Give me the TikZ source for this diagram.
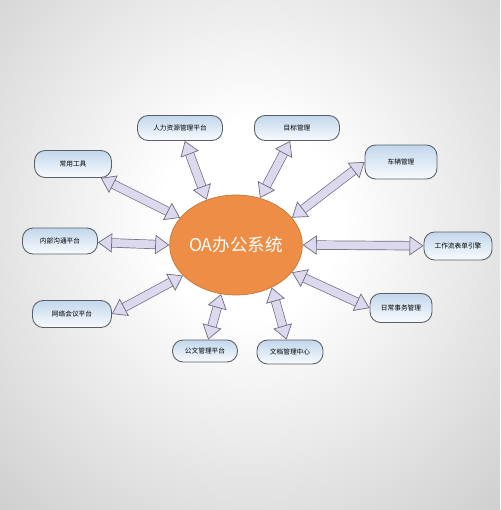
\documentclass[tikz,border=0pt]{standalone}
\usepackage{fontspec}
\newfontfamily\cjk{Noto Sans CJK SC}
\usepackage{tikz}
\usetikzlibrary{arrows.meta,shapes.geometric}
\definecolor{arrowfill}{HTML}{DCD8EE}
\definecolor{arrowline}{HTML}{6E6E80}
\definecolor{boxtop}{HTML}{C2D7EC}
\definecolor{boxline}{HTML}{5A5F66}
\definecolor{oafill}{HTML}{EE8D45}
\definecolor{oaline}{HTML}{C8783C}
\pgfdeclareradialshading{bgshade}{\pgfpoint{0bp}{0bp}}{color(0bp)=(white); color(8bp)=(white); color(44bp)=(black!27); color(72bp)=(black!31)}

\begin{document}
\begin{tikzpicture}[x=0.02cm,y=-0.02cm]
\tikzstyle{module}=[draw=boxline, line width=0.5pt, rounded corners=6pt, top color=boxtop, bottom color=white!90!boxtop, inner sep=0pt, font=\cjk\fontsize{3.8}{4}\selectfont]
\tikzstyle{fat}=[draw=arrowline, line width=0.4pt, double=arrowfill, double distance=4.5pt, {Triangle[length=8pt,width=11pt,fill=arrowfill]}-{Triangle[length=8pt,width=11pt,fill=arrowfill]}]
\useasboundingbox (0,0) rectangle (500,510);
\begin{scope}
\clip (0,0) rectangle (500,510);
\shade[shading=bgshade] (-30,-80) rectangle (530,520);
\end{scope}
% centre
\node[ellipse, draw=oaline, fill=oafill, minimum width=2.64cm, minimum height=2cm, inner sep=0pt, text=white, font=\cjk\fontsize{10}{11}\selectfont] (oa) at (236,245) {OA办公系统};
% modules
\node[module, minimum width=1.7cm, minimum height=0.5cm] (hr) at (180,128) {人力资源管理平台};
\node[module, minimum width=1.7cm, minimum height=0.5cm] (goal) at (297,128) {目标管理};
\node[module, minimum width=1.54cm, minimum height=0.54cm] (tools) at (73,164) {常用工具};
\node[module, minimum width=1.44cm, minimum height=0.68cm] (car) at (401,162) {车辆管理};
\node[module, minimum width=1.5cm, minimum height=0.52cm] (intra) at (60,241) {内部沟通平台};
\node[module, minimum width=1.36cm, minimum height=0.56cm] (flow) at (458,246) {工作流表单引擎};
\node[module, minimum width=1.58cm, minimum height=0.54cm] (meet) at (72,314) {网络会议平台};
\node[module, minimum width=1.24cm, minimum height=0.58cm] (daily) at (401,308) {日常事务管理};
\node[module, minimum width=1.3cm, minimum height=0.44cm] (doc) at (205,351) {公文管理平台};
\node[module, minimum width=1.32cm, minimum height=0.48cm] (file) at (290,352) {文档管理中心};
% arrows
\draw[fat] (hr) -- (oa.123);
\draw[fat] (goal) -- (oa.63);
\draw[fat] (car.west) -- (oa.26);
\draw[fat] (tools) -- (oa.154);
\draw[fat] (intra) -- (oa.180);
\draw[fat] (flow) -- (oa.0);
\draw[fat] (meet.east) -- (oa.210);
\draw[fat] (daily.west) -- (oa.334);
\draw[fat] (doc) -- (oa.253);
\draw[fat] (file) -- (oa.310);
\end{tikzpicture}
\end{document}
